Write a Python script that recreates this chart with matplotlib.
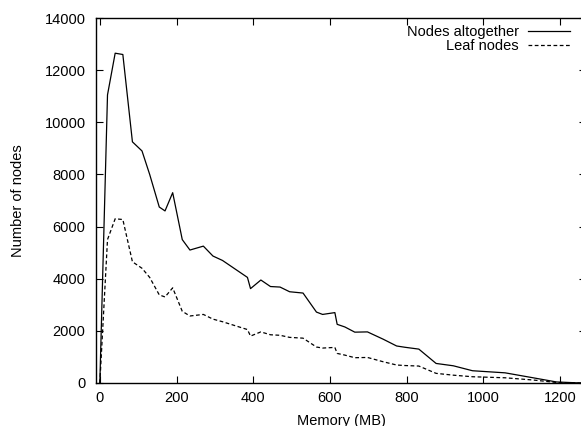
import matplotlib
matplotlib.use("Agg")
import matplotlib.pyplot as plt

plt.rcParams["font.family"] = ["Liberation Sans", "DejaVu Sans"]
plt.rcParams["font.size"] = 10.5

# memory (MB) sampled along the run
memory = [0, 20, 40, 60, 85, 110, 130, 155, 170, 190, 215, 235, 270, 295, 320,
          385, 393, 420, 445, 470, 495, 530, 565, 581, 613, 619, 639, 665, 698,
          739, 774, 796, 832, 877, 922, 972, 1057, 1130, 1191, 1255]
nodes_all = [0, 11050, 12650, 12600, 9250, 8900, 8000, 6750, 6600, 7300, 5500,
             5100, 5250, 4870, 4700, 4050, 3620, 3950, 3700, 3680, 3500, 3450,
             2720, 2630, 2700, 2250, 2150, 1950, 1960, 1680, 1420, 1370, 1300,
             750, 660, 470, 390, 200, 40, 0]
nodes_leaf = [0, 5500, 6300, 6270, 4650, 4400, 4050, 3380, 3300, 3650, 2750,
              2570, 2630, 2450, 2350, 2050, 1800, 1960, 1850, 1830, 1750, 1720,
              1380, 1340, 1365, 1135, 1070, 970, 980, 815, 690, 670, 650,
              370, 300, 240, 200, 115, 20, 0]
x_ticks = [0, 200, 400, 600, 800, 1000, 1200]
y_ticks = [0, 2000, 4000, 6000, 8000, 10000, 12000, 14000]

fig = plt.figure(figsize=(5.81, 4.26), dpi=100)
# right edge of the box sits just outside the picture, as in the original
ax = fig.add_axes([96 / 581, 43 / 426, 490 / 581, 365 / 426])

ax.plot(memory, nodes_all, color="black", linewidth=0.9, label="Nodes altogether")
ax.plot(memory, nodes_leaf, color="black", linewidth=0.9, linestyle=(0, (3, 2)),
        label="Leaf nodes")

ax.set_xlim(-10, 1268)
ax.set_ylim(0, 14000)
ax.set_xticks(x_ticks)
ax.set_yticks(y_ticks)
ax.tick_params(direction="in", length=5, width=0.8, top=True, right=True)
ax.tick_params(axis="x", pad=6)
ax.tick_params(axis="y", pad=7.5)
for s in ax.spines.values():
    s.set_linewidth(1.0)

ax.set_xlabel("Memory (MB)", labelpad=6)
ax.set_ylabel("Number of nodes", labelpad=14)

ax.legend(loc="upper right", bbox_to_anchor=(570 / 581, 401 / 426),
          bbox_transform=fig.transFigure, frameon=False, markerfirst=False,
          handlelength=2.9, handletextpad=0.6, labelspacing=0.0, borderpad=0,
          borderaxespad=0)

fig.savefig("out.png", dpi=100)
